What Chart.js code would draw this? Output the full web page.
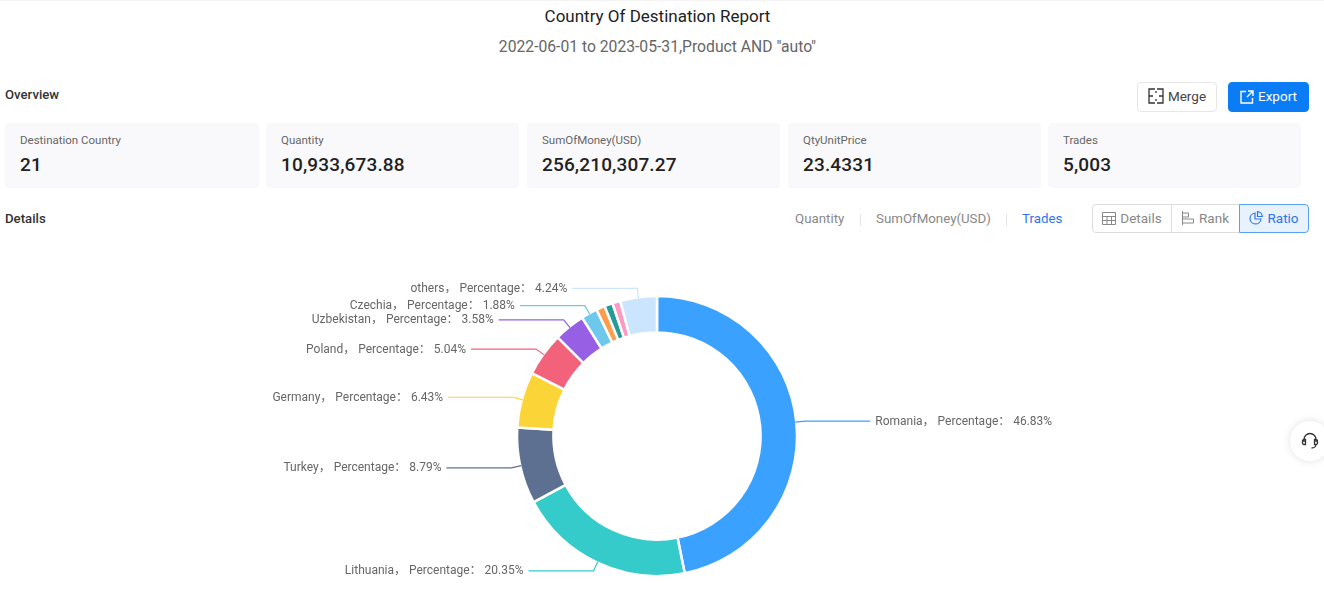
<!DOCTYPE html>
<html lang="en">
<head>
  <meta charset="UTF-8">
  <title>Country Of Destination Report</title>
  <script src="https://cdn.jsdelivr.net/npm/chart.js"></script>
  <style>
    html, body { margin: 0; padding: 0; background: #fff; overflow: hidden; }
    body { width: 1324px; height: 592px; position: relative; font-family: Roboto, "Noto Sans", sans-serif; color: #333; }
    .abs { position: absolute; white-space: nowrap; }
    .titulo { left: 0; width: 1315px; top: 5px; text-align: center; font-size: 17px; line-height: 22px; color: #222; }
    .subtitulo { left: 0; width: 1315px; top: 36px; text-align: center; font-size: 15.7px; line-height: 22px; color: #666; }
    .seccion { left: 5px; font-size: 13.2px; line-height: 18px; font-weight: 500; color: #333; }
    .card { top: 123px; height: 65px; background: #f9f9fc; border-radius: 4px; }
    .card .nombre { position: absolute; left: 15px; top: 10px; font-size: 11.5px; line-height: 15px; color: #666; }
    .card .valor { position: absolute; left: 15px; top: 30px; font-size: 19px; line-height: 24px; font-weight: 500; color: #222; letter-spacing: 0.15px; }
    .btn { top: 82px; height: 30px; box-sizing: border-box; border-radius: 4px; font-size: 13.5px; line-height: 27px; text-align: center; }
    .btn svg { vertical-align: -3px; margin-right: 4px; }
    .merge { left: 1137px; width: 80px; border: 1px solid #e6e6e6; color: #444; }
    .export { left: 1228px; width: 81px; border: 1px solid #0a7cf5; background: #0a7cf5; color: #fff; }
    .tab { top: 210px; font-size: 13.3px; line-height: 18px; color: #888; }
    .sep { top: 214px; width: 1px; height: 12px; background: #e4e4e4; }
    .grupo { top: 204px; height: 29px; box-sizing: border-box; border: 1px solid #dcdcdc; font-size: 13.5px; line-height: 27px; text-align: center; color: #888; }
    .grupo svg { vertical-align: -2px; margin-right: 4px; }
    .soporte { left: 1290px; top: 421px; width: 40px; height: 40px; border-radius: 50%; background: #fff; box-shadow: 0 0 8px rgba(0,0,0,0.12); }
    .contenedor { position: absolute; left: 0; top: 280px; width: 1314px; height: 312px; }
  </style>
</head>
<body>
  <div class="abs" style="left:0;top:0;width:1324px;height:1px;background:#f4f4f4"></div>
  <div class="abs titulo">Country Of Destination Report</div>
  <div class="abs subtitulo">2022-06-01 to 2023-05-31,Product AND "auto"</div>

  <div class="abs seccion" style="top:86px">Overview</div>
  <div class="abs btn merge"><svg width="16" height="16" viewBox="0 0 16 16" fill="none" stroke="#333" stroke-width="1.3"><path d="M7 1H1v14h6M9 1h6v14H9M1 8h4M11 8h4M8 3v2M8 11v2"/></svg>Merge</div>
  <div class="abs btn export"><svg width="14" height="14" viewBox="0 0 14 14" fill="none" stroke="#fff" stroke-width="1.4"><path d="M6 1.500H1v11.500h11.500V8M8 1h5v5M13 1L7 7"/></svg>Export</div>

  <div id="tarjetas"></div>

  <div class="abs seccion" style="top:210px">Details</div>
  <div class="abs tab" style="left:795px">Quantity</div>
  <div class="abs sep" style="left:860px"></div>
  <div class="abs tab" style="left:876px">SumOfMoney(USD)</div>
  <div class="abs sep" style="left:1006px"></div>
  <div class="abs tab" style="left:1022px;color:#2f74f0">Trades</div>

  <div class="abs grupo" style="left:1092px;width:80px;border-radius:4px 0 0 4px"><svg width="14" height="13" viewBox="0 0 14 13" fill="none" stroke="#888"><path d="M.5.5h13v12H.5zM.5 4.500h13M.5 8.500h13M5 4.500v8M9.500 4.500v8"/></svg>Details</div>
  <div class="abs grupo" style="left:1171px;width:69px;border-left:0"><svg width="14" height="14" viewBox="0 0 14 14" fill="none" stroke="#888"><path d="M1.500 0v14M1.500 2h6v4h-6M1.500 8h11v4h-11"/></svg>Rank</div>
  <div class="abs grupo" style="left:1239px;width:70px;border:1px solid #5b9ff0;background:#e8f2fd;color:#2f74f0;border-radius:0 4px 4px 0"><svg width="14" height="14" viewBox="0 0 14 14" fill="none" stroke="#2f74f0" stroke-width="1.2"><path d="M6 2a5.500 5.500 0 1 0 6 6H6zM8.500 .7A5 5 0 0 1 13.300 5.500H8.500z"/></svg>Ratio</div>

  <div class="abs soporte"><svg style="position:absolute;left:11px;top:11px" width="18" height="18" viewBox="0 0 18 18" fill="none" stroke="#333" stroke-width="1.3"><path d="M3 10V7.500a6 6 0 0 1 12 0V10M3 7.500h1.500v5H3a1.500 1.500 0 0 1-1.500-1.500V9A1.500 1.500 0 0 1 3 7.500zM15 7.500h-1.500v5H15a1.500 1.500 0 0 0 1.500-1.500V9A1.500 1.500 0 0 0 15 7.500zM15 12.500c0 2-2 3.500-4.500 3.500"/></svg></div>

  <div class="contenedor">
    <canvas id="graficoAnillo"></canvas>
  </div>

  <script>
    // summary cards
    const tarjetaNombres = ['Destination Country', 'Quantity', 'SumOfMoney(USD)', 'QtyUnitPrice', 'Trades'];
    const tarjetaValores = ['21', '10,933,673.88', '256,210,307.27', '23.4331', '5,003'];
    const tarjetaX = [5, 266, 527, 788, 1048];
    const tarjetaAncho = [254, 253, 253, 253, 253];

    // slices, clockwise from the top. The three small unlabelled ones have no name in the picture
    const paises = ['Romania', 'Lithuania', 'Turkey', 'Germany', 'Poland', 'Uzbekistan', 'Czechia', '', '', '', 'others'];
    const porcentajes = [46.83, 20.35, 8.79, 6.43, 5.04, 3.58, 1.88, 1.00, 0.95, 0.91, 4.24];
    const colores = ['#3AA1FF', '#36CBCB', '#5D7092', '#FBD437', '#F2637B', '#975FE4', '#6DC8EC', '#FF9D4D', '#269A99', '#FF99C3', '#CCE5FF'];

    const contTarjetas = document.getElementById('tarjetas');
    tarjetaNombres.forEach(function (nombre, i) {
      const d = document.createElement('div');
      d.className = 'abs card';
      d.style.left = tarjetaX[i] + 'px';
      d.style.width = tarjetaAncho[i] + 'px';
      d.innerHTML = '<div class="nombre">' + nombre + '</div><div class="valor">' + tarjetaValores[i] + '</div>';
      contTarjetas.appendChild(d);
    });

    // leader lines: out along the slice's mid angle, then a flat run to the text
    const etiquetas = {
      id: 'etiquetas',
      afterDatasetsDraw(chart) {
        const c = chart.ctx;
        chart.getDatasetMeta(0).data.forEach(function (arco, i) {
          if (!paises[i]) return;
          const p = arco.getProps(['x', 'y', 'startAngle', 'endAngle', 'outerRadius']);
          const medio = (p.startAngle + p.endAngle) / 2;
          const cos = Math.cos(medio), sin = Math.sin(medio);
          const x0 = p.x + cos * (p.outerRadius - 1), y0 = p.y + sin * (p.outerRadius - 1);
          const x1 = p.x + cos * (p.outerRadius + 9), y1 = p.y + sin * (p.outerRadius + 9);
          const dir = cos >= 0 ? 1 : -1;
          const x2 = x1 + dir * 65;

          c.save();
          c.strokeStyle = colores[i];
          c.lineWidth = 1.2;
          c.beginPath();
          c.moveTo(x0, y0);
          c.lineTo(x1, y1);
          c.lineTo(x2, y1);
          c.stroke();

          c.font = '12px Roboto, "Noto Sans CJK SC", sans-serif';
          c.fillStyle = '#666';
          c.textBaseline = 'middle';
          c.textAlign = dir > 0 ? 'left' : 'right';
          c.fillText(paises[i] + '， Percentage： ' + porcentajes[i].toFixed(2) + '%', x2 + dir * 5, y1 + 0.5);
          c.restore();
        });
      }
    };

    const ctx = document.getElementById('graficoAnillo').getContext('2d');
    new Chart(ctx, {
      type: 'doughnut',
      data: {
        labels: paises,
        datasets: [{
          data: porcentajes,
          backgroundColor: colores,
          borderColor: '#fff',
          borderWidth: 2.5,
          borderAlign: 'center',
          radius: 140,
          cutout: '74%'
        }]
      },
      options: {
        responsive: true,
        maintainAspectRatio: false,
        animation: false,
        layout: { padding: 0 },
        plugins: {
          legend: { display: false },
          tooltip: { enabled: false }
        }
      },
      plugins: [etiquetas]
    });
  </script>
</body>
</html>
